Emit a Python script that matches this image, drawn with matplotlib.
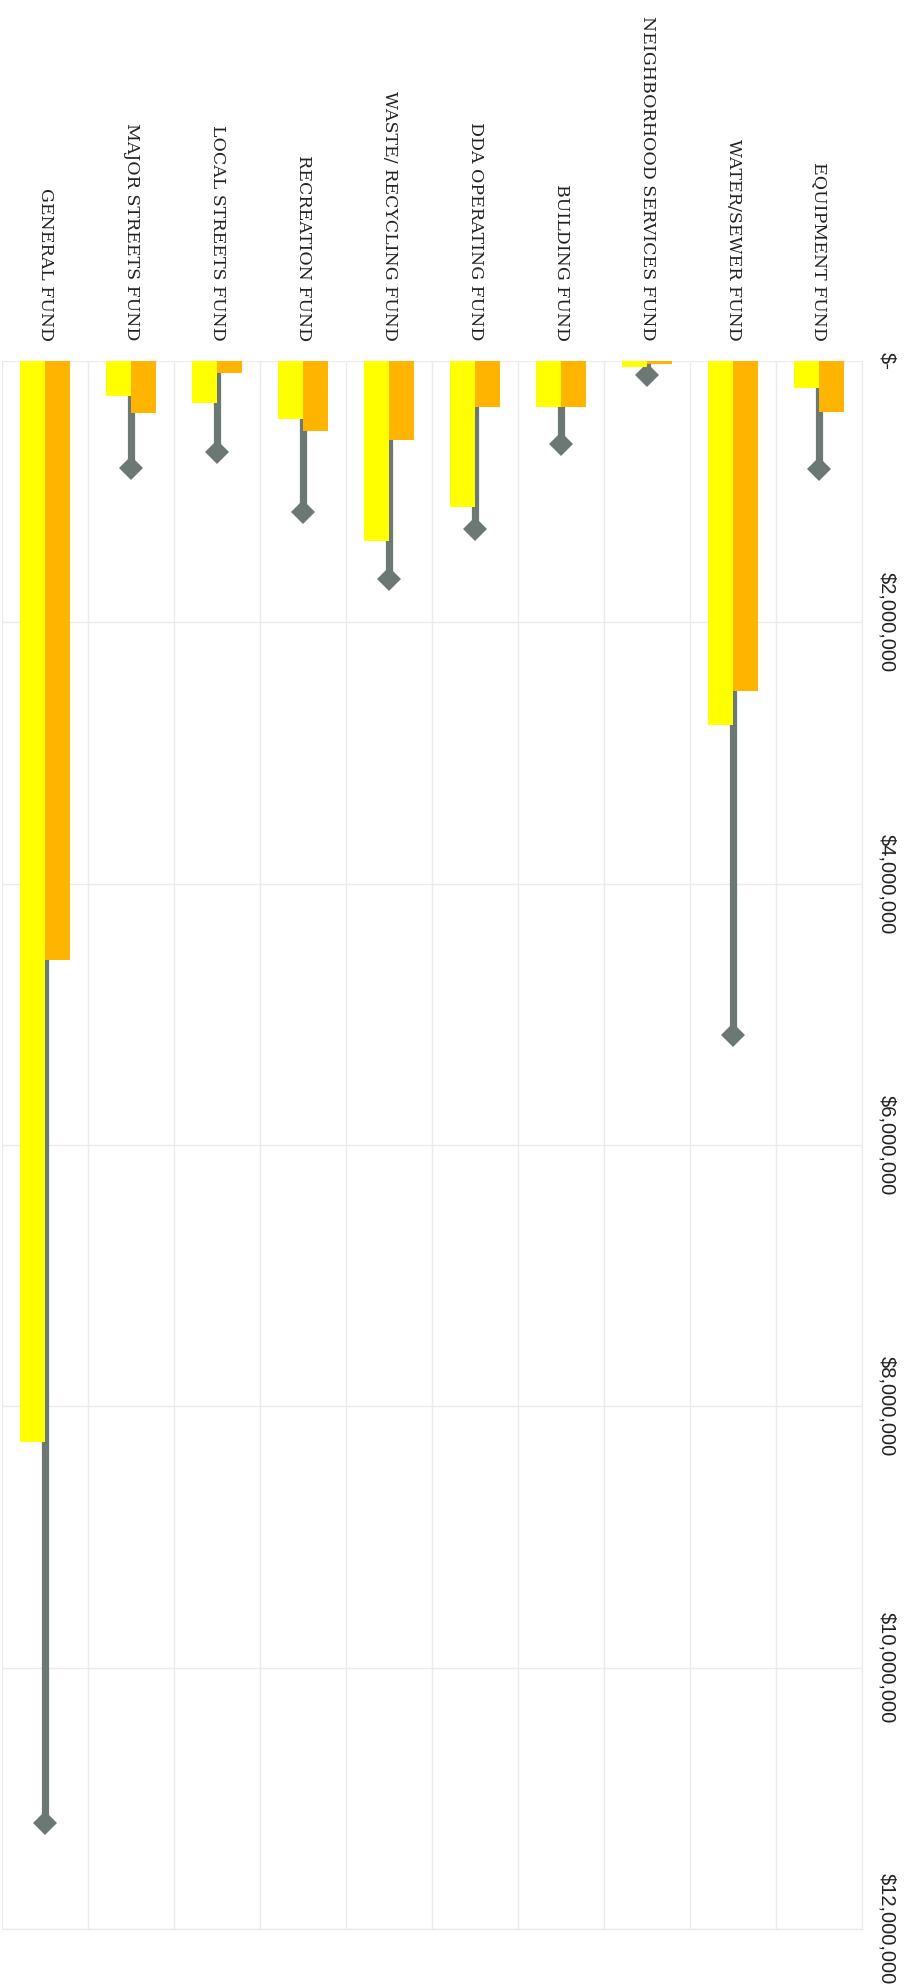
import numpy as np
import matplotlib
matplotlib.use("Agg")
import matplotlib.pyplot as plt
from matplotlib.ticker import FuncFormatter

# funds, left to right across the page (page is turned sideways)
funds = ["GENERAL FUND", "MAJOR STREETS FUND", "LOCAL STREETS FUND",
         "RECREATION FUND", "WASTE/ RECYCLING FUND", "DDA OPERATING FUND",
         "BUILDING FUND", "NEIGHBORHOOD SERVICES FUND", "WATER/SEWER FUND",
         "EQUIPMENT FUND"]

# dollar amounts per fund
yellow_vals = [8275000, 268000, 321000, 444000, 1377000, 1117000,
               355000, 46000, 2784000, 206000]
orange_vals = [4581000, 398000, 92000, 535000, 604000, 352000,
               350000, 23000, 2524000, 390000]
line_vals = [11190000, 818000, 696000, 1155000, 1667000, 1285000,
             635000, 107000, 5155000, 826000]

value_ticks = [0, 2000000, 4000000, 6000000, 8000000, 10000000, 12000000]

W, H = 915, 1986
fig = plt.figure(figsize=(W / 100, H / 100), dpi=100)
fig.patch.set_facecolor("white")

left, right = 2, 862
top, bottom = 361, 1929
ax = fig.add_axes([left / W, 1 - bottom / H, (right - left) / W, (bottom - top) / H])

x = np.arange(len(funds))
bw = 0.29
line_col = "#6c7874"

# value lines sit behind the bars
for xi, v in zip(x, line_vals):
    ax.plot([xi, xi], [0, v], color=line_col, lw=5.2, solid_capstyle="butt", zorder=2)
    ax.plot(xi, v, marker="D", ms=12, mew=0, color=line_col, zorder=2)

ax.bar(x - bw, yellow_vals, width=bw, align="edge", color="#ffff00", zorder=3)
ax.bar(x, orange_vals, width=bw, align="edge", color="#ffb400", zorder=3)

ax.set_xlim(-0.5, len(funds) - 0.5)
ax.set_ylim(12000000, 0)

# category separators and value gridlines
grid_col = "#ebebeb"
ax.set_xticks(np.arange(len(funds) + 1) - 0.5, minor=True)
ax.grid(True, which="minor", axis="x", color=grid_col, lw=1, zorder=0)
ax.grid(True, which="major", axis="y", color=grid_col, lw=1, zorder=0)

ax.xaxis.tick_top()
ax.set_xticks(x)
ax.set_xticklabels(funds, rotation=-90, fontsize=12.5,
                   family=["DejaVu Serif"], color="#222222")
ax.tick_params(axis="x", which="both", length=0, pad=14.5)

ax.yaxis.tick_right()
ax.set_yticks(value_ticks)
ax.yaxis.set_major_formatter(FuncFormatter(lambda v, p: "$-" if v == 0 else "${:,.0f}".format(v)))
for lbl in ax.get_yticklabels():
    lbl.set_rotation(-90)
    lbl.set_verticalalignment("center")
    lbl.set_fontsize(14.5)
    lbl.set_family(["Liberation Sans", "DejaVu Sans"])
    lbl.set_color("#222222")
ax.tick_params(axis="y", length=0, pad=11)

for s in ["top", "left"]:
    ax.spines[s].set_visible(False)
for s in ["right", "bottom"]:
    ax.spines[s].set_color(grid_col)
    ax.spines[s].set_linewidth(1)

fig.savefig("out.png", dpi=100, facecolor="white")
